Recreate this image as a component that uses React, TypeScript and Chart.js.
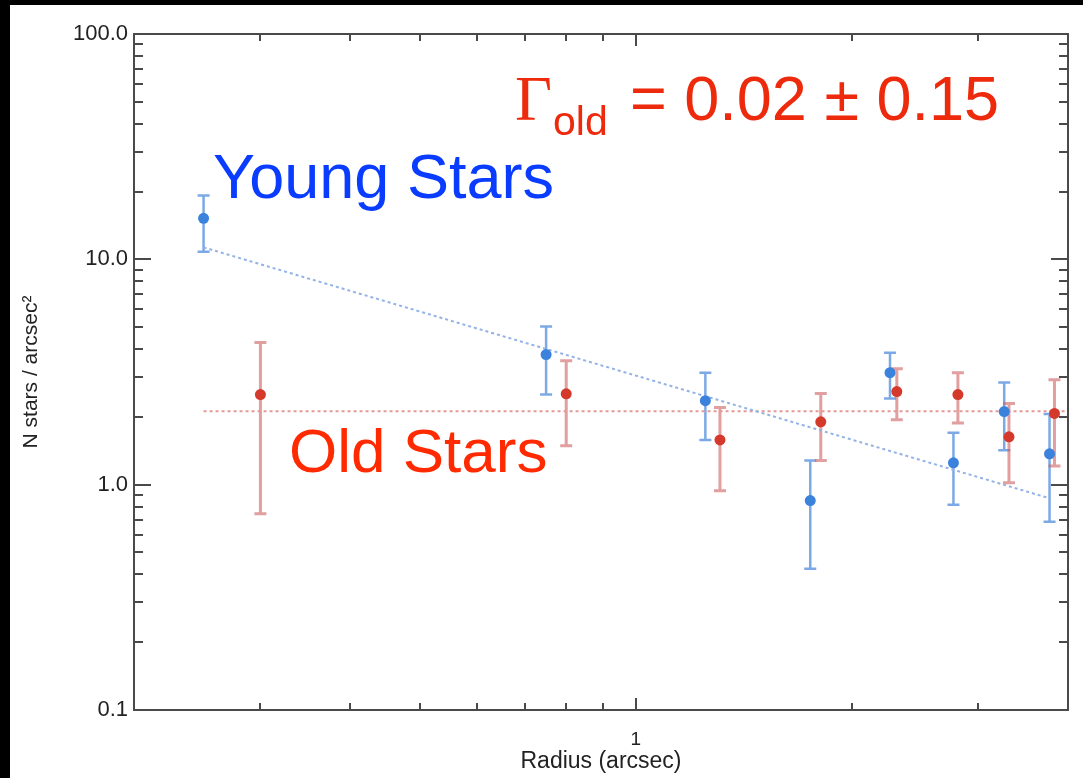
import React, { useEffect, useRef } from "react";
import { Chart, registerables } from "chart.js";

Chart.register(...registerables);

// ---- data ----
const youngRadius = [0.25, 0.75, 1.25, 1.75, 2.26, 2.77, 3.26, 3.77];
const youngDensity = [15.2, 3.78, 2.36, 0.85, 3.14, 1.25, 2.11, 1.37];
const youngLower = [10.8, 2.51, 1.58, 0.424, 2.41, 0.815, 1.42, 0.685];
const youngUpper = [19.2, 5.03, 3.14, 1.28, 3.85, 1.7, 2.84, 2.06];

const oldRadius = [0.3, 0.8, 1.31, 1.81, 2.31, 2.81, 3.31, 3.83];
const oldDensity = [2.51, 2.53, 1.58, 1.9, 2.59, 2.51, 1.63, 2.07];
const oldLower = [0.743, 1.49, 0.94, 1.28, 1.94, 1.88, 1.02, 1.21];
const oldUpper = [4.27, 3.55, 2.2, 2.54, 3.27, 3.14, 2.29, 2.92];

const youngFitRadius = [0.25, 3.77];
const youngFitDensity = [11.3, 0.87];
const oldFitRadius = [0.25, 4.0];
const oldFitDensity = [2.12, 2.12];

const xMin = 0.2;
const xMax = 4;
const yMin = 0.1;
const yMax = 100;
const xMajorTicks = [1];
const xMinorTicks = [0.3, 0.4, 0.5, 0.6, 0.7, 0.8, 0.9, 2, 3];
const yMajorTicks = [0.1, 1, 10, 100];
const yMinorTicks = [
  0.2, 0.3, 0.4, 0.5, 0.6, 0.7, 0.8, 0.9,
  2, 3, 4, 5, 6, 7, 8, 9,
  20, 30, 40, 50, 60, 70, 80, 90,
];

const labelYoung = "Young Stars";
const labelOld = "Old Stars";
const gammaSymbol = "Γ";
const gammaSub = "old";
const gammaValue = "= 0.02 ± 0.15";
const xTitle = "Radius (arcsec)";
const yTitle = "N stars / arcsec²";

const W = 1083;
const H = 778;
const SANS = "'Liberation Sans', Arial, Helvetica, sans-serif";

const pts = (xs: number[], ys: number[]) => xs.map((x, i) => ({ x, y: ys[i] }));

const decoPlugin = {
  id: "deco",
  beforeDraw(chart: any) {
    const ctx = chart.ctx;
    ctx.save();
    ctx.fillStyle = "#ffffff";
    ctx.fillRect(0, 0, W, H);
    ctx.fillStyle = "#000000";
    ctx.fillRect(0, 0, W, 5);
    ctx.fillRect(0, 0, 10, H);
    ctx.restore();
  },
  beforeDatasetsDraw(chart: any) {
    const ctx = chart.ctx;
    const xs = chart.scales.x;
    const ys = chart.scales.y;
    const drawBars = (r: number[], lo: number[], hi: number[], color: string, lw: number) => {
      ctx.save();
      ctx.strokeStyle = color;
      ctx.lineWidth = lw;
      r.forEach((rv, i) => {
        const px = xs.getPixelForValue(rv);
        const p1 = ys.getPixelForValue(lo[i]);
        const p2 = ys.getPixelForValue(hi[i]);
        ctx.beginPath();
        ctx.moveTo(px, p1);
        ctx.lineTo(px, p2);
        ctx.moveTo(px - 6, p1);
        ctx.lineTo(px + 6, p1);
        ctx.moveTo(px - 6, p2);
        ctx.lineTo(px + 6, p2);
        ctx.stroke();
      });
      ctx.restore();
    };
    drawBars(youngRadius, youngLower, youngUpper, "rgba(80,140,220,0.75)", 2.5);
    drawBars(oldRadius, oldLower, oldUpper, "rgba(205,95,95,0.6)", 3);
  },
  afterDraw(chart: any) {
    const ctx = chart.ctx;
    const xs = chart.scales.x;
    const ys = chart.scales.y;
    const { left, right, top, bottom } = chart.chartArea;
    ctx.save();
    ctx.strokeStyle = "#4a4a4a";
    ctx.lineWidth = 2;
    ctx.beginPath();
    const yt = (v: number, len: number) => {
      const p = Math.round(ys.getPixelForValue(v));
      ctx.moveTo(left, p);
      ctx.lineTo(left + len, p);
      ctx.moveTo(right, p);
      ctx.lineTo(right - len, p);
    };
    const xt = (v: number, len: number) => {
      const p = Math.round(xs.getPixelForValue(v));
      ctx.moveTo(p, bottom);
      ctx.lineTo(p, bottom - len);
      ctx.moveTo(p, top);
      ctx.lineTo(p, top + len);
    };
    yMajorTicks.forEach((v) => yt(v, 17));
    yMinorTicks.forEach((v) => yt(v, 9));
    xMajorTicks.forEach((v) => xt(v, 12));
    xMinorTicks.forEach((v) => xt(v, 7));
    ctx.stroke();
    ctx.strokeRect(left, top, right - left, bottom - top);

    // annotations
    ctx.textBaseline = "alphabetic";
    ctx.textAlign = "left";
    ctx.fillStyle = "#0a3cff";
    ctx.font = `63px ${SANS}`;
    ctx.fillText(labelYoung, 213, 198);
    ctx.fillStyle = "#ff2a00";
    ctx.font = `62px ${SANS}`;
    ctx.fillText(labelOld, 289, 472);

    ctx.fillStyle = "#ee2a0c";
    ctx.font = `64px 'Liberation Serif', 'Times New Roman', serif`;
    ctx.fillText(gammaSymbol, 515, 120);
    ctx.font = `41px ${SANS}`;
    ctx.fillText(gammaSub, 553, 135);
    ctx.font = `63px ${SANS}`;
    ctx.fillText(gammaValue, 630, 120);
    ctx.restore();
  },
};

export default function App() {
  const ref = useRef<HTMLCanvasElement | null>(null);
  useEffect(() => {
    if (!ref.current) return;
    const chart = new Chart(ref.current, {
      type: "scatter",
      data: {
        datasets: [
          {
            label: "Old",
            data: pts(oldRadius, oldDensity),
            backgroundColor: "#d5392c",
            borderWidth: 0,
            pointRadius: 5.5,
            showLine: false,
            order: 1,
          },
          {
            label: "Young",
            data: pts(youngRadius, youngDensity),
            backgroundColor: "#3b82dc",
            borderWidth: 0,
            pointRadius: 5.5,
            showLine: false,
            order: 2,
          },
          {
            label: "Young fit",
            data: pts(youngFitRadius, youngFitDensity),
            showLine: true,
            borderColor: "#93b2e6",
            borderWidth: 2,
            borderDash: [3, 3],
            pointRadius: 0,
            order: 3,
          },
          {
            label: "Old fit",
            data: pts(oldFitRadius, oldFitDensity),
            showLine: true,
            borderColor: "#e49a98",
            borderWidth: 2,
            borderDash: [3, 3],
            pointRadius: 0,
            order: 4,
          },
        ],
      },
      options: {
        animation: false,
        responsive: false,
        layout: { padding: { left: 10, top: 34, right: 15, bottom: 0 } },
        plugins: {
          legend: { display: false },
          tooltip: { enabled: false },
        },
        scales: {
          x: {
            type: "logarithmic",
            min: xMin,
            max: xMax,
            afterBuildTicks: (s: any) => {
              s.ticks = xMajorTicks.map((v) => ({ value: v }));
            },
            afterFit: (s: any) => {
              s.height = 68;
            },
            grid: { display: false, drawTicks: false },
            border: { display: false },
            ticks: {
              autoSkip: false,
              maxRotation: 0,
              padding: 18,
              color: "#222",
              font: { family: SANS, size: 19 },
              callback: (v: any) => String(v),
            },
            title: {
              display: true,
              text: xTitle,
              color: "#222",
              font: { family: SANS, size: 23 },
              padding: { top: 0, bottom: 3 },
            },
          },
          y: {
            type: "logarithmic",
            min: yMin,
            max: yMax,
            afterBuildTicks: (s: any) => {
              s.ticks = yMajorTicks.map((v) => ({ value: v }));
            },
            afterFit: (s: any) => {
              s.width = 124;
            },
            grid: { display: false, drawTicks: false },
            border: { display: false },
            ticks: {
              autoSkip: false,
              padding: 6,
              color: "#222",
              font: { family: SANS, size: 22 },
              callback: (v: any) => Number(v).toFixed(1),
            },
            title: {
              display: true,
              text: yTitle,
              color: "#222",
              font: { family: SANS, size: 21 },
              padding: { top: 9, bottom: 0 },
            },
          },
        },
      },
      plugins: [decoPlugin],
    });
    return () => chart.destroy();
  }, []);
  return (
    <div style={{ position: "fixed", left: 0, top: 0, width: W, height: H, background: "#fff" }}>
      <canvas ref={ref} width={W} height={H} style={{ display: "block" }} />
    </div>
  );
}
